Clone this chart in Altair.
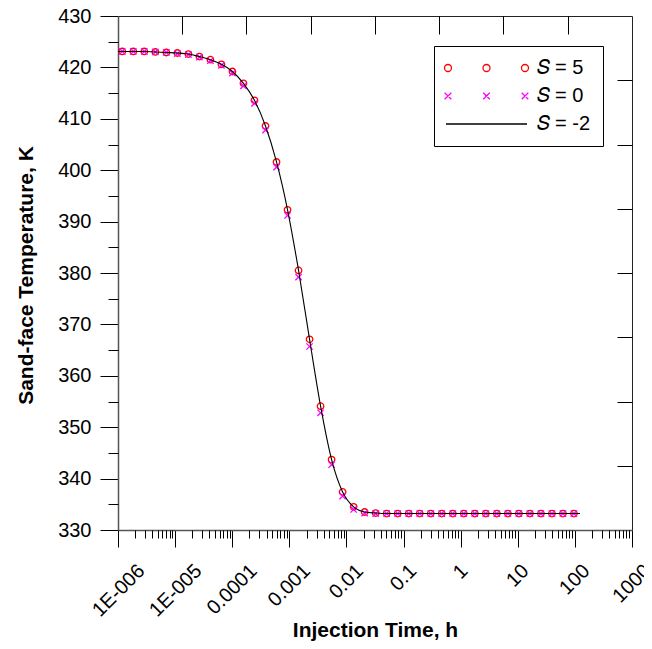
import altair as alt
import pandas as pd

# ---------------- data ----------------
times = [1.189e-6, 1.853e-6, 2.889e-6, 4.503e-6, 7.022e-6, 1.095e-5, 1.707e-5, 2.662e-5,
         4.150e-5, 6.472e-5, 1.009e-4, 1.573e-4, 2.453e-4, 3.825e-4, 5.964e-4, 9.300e-4,
         1.450e-3, 2.261e-3, 3.525e-3, 5.497e-3, 8.570e-3, 1.336e-2, 2.084e-2, 3.249e-2,
         5.066e-2, 7.898e-2, 0.1232, 0.1920, 0.2994, 0.4668, 0.7278, 1.135,
         1.769, 2.759, 4.301, 6.707, 10.46, 16.31, 25.42, 39.64, 61.80, 96.36]

temp_s5 = [423.1, 423.1, 423.1, 423.0, 422.9, 422.8, 422.6, 422.1,
           421.5, 420.6, 419.2, 416.9, 413.6, 408.6, 401.6, 392.3,
           380.5, 367.1, 354.1, 343.7, 337.4, 334.5, 333.5, 333.3,
           333.2, 333.2, 333.2, 333.2, 333.2, 333.2, 333.2, 333.2,
           333.2, 333.2, 333.2, 333.2, 333.2, 333.2, 333.2, 333.2, 333.2, 333.2]

temp_s0 = [423.1, 423.1, 423.1, 423.0, 422.9, 422.7, 422.5, 422.0,
           421.3, 420.4, 418.9, 416.4, 413.0, 407.8, 400.6, 391.2,
           379.2, 365.7, 352.8, 342.7, 336.6, 334.0, 333.3, 333.2,
           333.2, 333.2, 333.2, 333.2, 333.2, 333.2, 333.2, 333.2,
           333.2, 333.2, 333.2, 333.2, 333.2, 333.2, 333.2, 333.2, 333.2, 333.2]

line_times = [1.0e-6] + times + [123.0]
temp_sm2 = [423.1, 423.1, 423.1, 423.1, 423.0, 422.9, 422.8, 422.6, 422.1,
            421.5, 420.6, 419.2, 416.9, 413.6, 408.6, 401.6, 392.3,
            380.5, 367.1, 354.1, 343.7, 337.4, 334.5, 333.5, 333.3,
            333.2, 333.2, 333.2, 333.2, 333.2, 333.2, 333.2, 333.2,
            333.2, 333.2, 333.2, 333.2, 333.2, 333.2, 333.2, 333.2, 333.2, 333.2, 333.2]

series = ["\U0001D446 = 5", "\U0001D446 = 0", "\U0001D446 = -2"]

x_decades = [1e-6, 1e-5, 1e-4, 1e-3, 1e-2, 1e-1, 1, 10, 100, 1000]
x_labels = ["1E-006", "1E-005", "0.0001", "0.001", "0.01", "0.1", "1", "10", "100", "1000"]
x_minor = [m * d for d in x_decades[:-1] for m in range(2, 10)]
x_top_ticks = [1.334e-5, 1.778e-4, 2.371e-3, 3.162e-2, 0.4217, 5.623, 74.99]
y_major = list(range(330, 431, 10))
y_minor = list(range(335, 430, 10))
y_right_ticks = [342.5, 355, 367.5, 380, 392.5, 405, 417.5]

# ---------------- chart ----------------
W, H = 514, 514
FONT = "Liberation Sans"
xscale = alt.Scale(type="log", domain=[1e-6, 1000], nice=False)
yscale = alt.Scale(domain=[330, 430], nice=False, zero=False)

df_pts = pd.DataFrame({"t": times, "s5": temp_s5, "s0": temp_s0})
df_line = pd.DataFrame({"t": line_times, "T": temp_sm2})
df_leg = pd.DataFrame({"series": series, "t": [times[0]] * 3, "T": [temp_s5[0]] * 3})
df_lab = pd.DataFrame({"v": x_decades, "label": x_labels})

circles = alt.Chart(df_pts).mark_point(
    shape="circle", filled=False, color="#ff0000", size=42, strokeWidth=1.3, opacity=1
).encode(
    x=alt.X("t:Q", scale=xscale, axis=alt.Axis(
        orient="bottom", values=x_decades, tickSize=17, labels=False, domain=True,
        title="Injection Time, h", titleFontSize=21, titleFontWeight="bold",
        titleBaseline="alphabetic", titleY=106, titleX=W / 2, titleAlign="center")),
    y=alt.Y("s5:Q", scale=yscale, axis=alt.Axis(
        orient="left", values=y_major, tickSize=18, format="d", labelFontSize=20,
        labelPadding=9, domain=True, title="Sand-face Temperature, K",
        titleFontSize=21, titleFontWeight="bold", titleAngle=270,
        titleBaseline="alphabetic", titleX=-86, titleY=259, titleAlign="center")),
)

xpath = "M-1,-1L1,1M-1,1L1,-1"
crosses = alt.Chart(df_pts).mark_point(
    shape=xpath, filled=False, color="#ff00ff", size=40, strokeWidth=1.3, opacity=1
).encode(
    x=alt.X("t:Q", scale=xscale, axis=alt.Axis(
        orient="bottom", values=x_minor, tickSize=8, labels=False, domain=False, title=None)),
    y=alt.Y("s0:Q", scale=yscale, axis=alt.Axis(
        orient="left", values=y_minor, tickSize=10, labels=False, domain=False, title=None)),
)

line = alt.Chart(df_line).mark_line(color="black", strokeWidth=1.1, interpolate="monotone").encode(
    x=alt.X("t:Q", scale=xscale, axis=alt.Axis(
        orient="bottom", offset=-H, values=x_top_ticks, tickSize=18, labels=False,
        domain=False, title=None)),
    y=alt.Y("T:Q", scale=yscale, axis=alt.Axis(
        orient="left", offset=-W, values=y_right_ticks, tickSize=15, labels=False,
        domain=False, title=None)),
)

path_c = ("M-7,0A0.7,0.7 0 1,1 -8.4,0A0.7,0.7 0 1,1 -7,0Z "
          "M0.7,0A0.7,0.7 0 1,1 -0.7,0A0.7,0.7 0 1,1 0.7,0Z "
          "M8.4,0A0.7,0.7 0 1,1 7,0A0.7,0.7 0 1,1 8.4,0Z")
path_x = ("M-8.36,-0.66L-7.04,0.66M-8.36,0.66L-7.04,-0.66"
          "M-0.66,-0.66L0.66,0.66M-0.66,0.66L0.66,-0.66"
          "M7.04,-0.66L8.36,0.66M7.04,0.66L8.36,-0.66")
path_l = "M-8.1,0L8.1,0"

leg = alt.Legend(
    title=None, orient="none", legendX=316, legendY=30, padding=12,
    strokeColor="black", fillColor="white", symbolSize=100, symbolStrokeWidth=1.3,
    symbolOffset=30.5, labelOffset=40, labelFontSize=20, labelFont=FONT,
    rowPadding=8, symbolOpacity=1, symbolFillColor="transparent", labelColor="black",
)
legend_layer = alt.Chart(df_leg).mark_point(filled=False, opacity=0).encode(
    x=alt.X("t:Q", scale=xscale, axis=None),
    y=alt.Y("T:Q", scale=yscale, axis=None),
    color=alt.Color("series:N", scale=alt.Scale(domain=series, range=["#ff0000", "#ff00ff", "#000000"]), legend=leg),
    shape=alt.Shape("series:N", scale=alt.Scale(domain=series, range=[path_c, path_x, path_l]), legend=leg),
)

L_EXPR = "20*(0.556*length(datum.label) - 0.278*(length(datum.label) - length(replace(datum.label, '.', ''))))"
labels = alt.Chart(df_lab).mark_text(
    angle=315, align="right", baseline="middle", fontSize=20, font=FONT, color="black",
    dx={"expr": "0.25*" + L_EXPR}, dy={"expr": "0.25*" + L_EXPR},
).encode(
    x=alt.X("v:Q", scale=xscale, axis=None),
    y=alt.value(552),
    text="label:N",
)

chart = alt.layer(circles, crosses, line, legend_layer, labels).resolve_axis(
    x="independent", y="independent"
).properties(
    width=W, height=H,
    autosize=alt.AutoSizeParams(type="none"),
    padding={"left": 110, "top": 8, "right": 12, "bottom": 111},
).configure_view(
    stroke="#222", strokeWidth=1
).configure_axis(
    grid=False, tickColor="black", tickWidth=1, domainColor="#555", domainWidth=1.5,
    labelFont=FONT, titleFont=FONT, labelColor="black", titleColor="black",
)

chart.save("out.html", embed_options={"renderer": "svg", "actions": False})
